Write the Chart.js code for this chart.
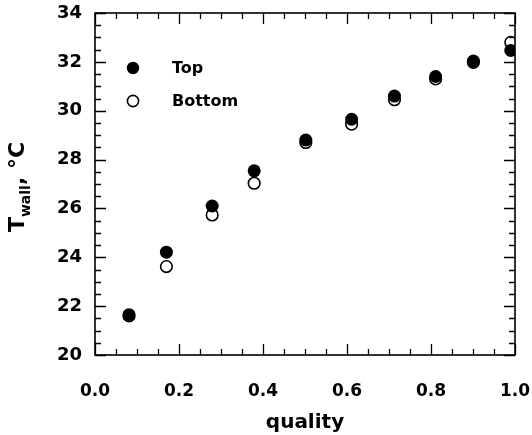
<!DOCTYPE html>
<html>
<head>
<meta charset="utf-8">
<script src="https://cdn.jsdelivr.net/npm/chart.js@4/dist/chart.umd.min.js"></script>
<style>
  html, body { margin: 0; padding: 0; background: #fff; }
  #wrap { width: 532px; height: 435px; position: relative; }
</style>
</head>
<body>
<div id="wrap"><canvas id="c" width="532" height="435"></canvas></div>
<script>
// ---- data ----
const quality = [0.081, 0.170, 0.279, 0.379, 0.502, 0.611, 0.713, 0.811, 0.901, 0.990];
const tempTop = [21.65, 24.21, 26.10, 27.54, 28.80, 29.65, 30.60, 31.40, 32.03, 32.47];
const tempBottom = [21.60, 23.62, 25.73, 27.03, 28.70, 29.45, 30.45, 31.30, 31.98, 32.80];
const seriesNames = ["Top", "Bottom"];
const xTickLabels = ["0.0", "0.2", "0.4", "0.6", "0.8", "1.0"];
const yTickLabels = ["20", "22", "24", "26", "28", "30", "32", "34"];
const xTitle = "quality";

const FONT = "'DejaVu Sans', Arial, sans-serif";

function pts(xs, ys) { return xs.map((x, i) => ({ x: x, y: ys[i] })); }

const framePlugin = {
  id: 'frame',
  afterDraw(chart) {
    const ctx = chart.ctx;
    const xs = chart.scales.x, ys = chart.scales.y;
    const a = chart.chartArea;
    ctx.save();
    ctx.strokeStyle = '#000';
    ctx.lineWidth = 1.6;
    ctx.strokeRect(a.left, a.top, a.right - a.left, a.bottom - a.top);
    ctx.lineWidth = 1.3;
    // x ticks (bottom and top), inward
    for (let i = 0; i <= 20; i++) {
      const v = i * 0.05;
      const px = Math.round(xs.getPixelForValue(v)) + 0.5;
      const major = (i % 4 === 0);
      const len = major ? 11 : 6;
      ctx.beginPath();
      ctx.moveTo(px, a.bottom); ctx.lineTo(px, a.bottom - len);
      ctx.moveTo(px, a.top); ctx.lineTo(px, a.top + len);
      ctx.stroke();
    }
    // y ticks (left and right), inward
    for (let i = 0; i <= 28; i++) {
      const v = 20 + i * 0.5;
      const py = Math.round(ys.getPixelForValue(v)) + 0.5;
      const major = (i % 4 === 0);
      const len = major ? 11 : 6;
      ctx.beginPath();
      ctx.moveTo(a.left, py); ctx.lineTo(a.left + len, py);
      ctx.moveTo(a.right, py); ctx.lineTo(a.right - len, py);
      ctx.stroke();
    }
    // legend
    const lx = a.left + 38;
    const ly1 = a.top + 55, ly2 = a.top + 88;
    ctx.fillStyle = '#000';
    ctx.beginPath(); ctx.arc(lx, ly1, 6.2, 0, Math.PI * 2); ctx.fill();
    ctx.lineWidth = 1.6;
    ctx.beginPath(); ctx.arc(lx, ly2, 5.6, 0, Math.PI * 2);
    ctx.fillStyle = '#fff'; ctx.fill(); ctx.stroke();
    ctx.fillStyle = '#000';
    ctx.font = "bold 16px " + FONT;
    ctx.textAlign = 'left';
    ctx.textBaseline = 'middle';
    ctx.fillText(seriesNames[0], lx + 39, ly1 + 1);
    ctx.fillText(seriesNames[1], lx + 39, ly2 + 1);
    // y title with subscript, rotated
    ctx.save();
    ctx.translate(24, 187);
    ctx.rotate(-Math.PI / 2);
    ctx.textBaseline = 'alphabetic';
    ctx.textAlign = 'left';
    const big = "bold 22px " + FONT, small = "bold 14px " + FONT;
    ctx.font = big;
    const wT = ctx.measureText("T").width;
    ctx.font = small;
    const wSub = ctx.measureText("wall").width;
    ctx.font = big;
    const wRest = ctx.measureText(", \u00B0C").width;
    let x0 = -(wT + wSub + wRest) / 2;
    ctx.font = big; ctx.fillText("T", x0, 0); x0 += wT;
    ctx.font = small; ctx.fillText("wall", x0, 6); x0 += wSub;
    ctx.font = big; ctx.fillText(", \u00B0C", x0, 0);
    ctx.restore();
    ctx.restore();
  }
};

new Chart(document.getElementById('c'), {
  type: 'scatter',
  data: {
    datasets: [
      {
        label: seriesNames[1],
        data: pts(quality, tempBottom),
        pointStyle: 'circle',
        pointRadius: 5.8,
        pointHoverRadius: 5.8,
        backgroundColor: '#fff',
        borderColor: '#000',
        borderWidth: 1.6,
        order: 2
      },
      {
        label: seriesNames[0],
        data: pts(quality, tempTop),
        pointStyle: 'circle',
        pointRadius: 6.5,
        pointHoverRadius: 6.5,
        backgroundColor: '#000',
        borderColor: '#000',
        borderWidth: 0,
        order: 1
      }
    ]
  },
  options: {
    responsive: false,
    animation: false,
    devicePixelRatio: 1,
    layout: { padding: { left: 0, top: 13, right: 17, bottom: 0 } },
    plugins: { legend: { display: false }, tooltip: { enabled: false } },
    scales: {
      x: {
        type: 'linear', min: 0, max: 1,
        grid: { display: false, drawTicks: false },
        border: { display: false },
        afterBuildTicks(s) { s.ticks = xTickLabels.map(t => ({ value: parseFloat(t) })); },
        ticks: {
          color: '#000', padding: 26,
          font: { family: FONT, size: 17, weight: 'bold' },
          maxRotation: 0, autoSkip: false,
          callback: (v, i) => xTickLabels[i]
        },
        title: {
          display: true, text: xTitle, color: '#000',
          font: { family: FONT, size: 20, weight: 'bold' },
          padding: { top: 4, bottom: 0 }
        },
        afterFit(s) { s.height = 80; s.paddingLeft = 0; s.paddingRight = 0; }
      },
      y: {
        type: 'linear', min: 20, max: 34,
        grid: { display: false, drawTicks: false },
        border: { display: false },
        afterBuildTicks(s) { s.ticks = yTickLabels.map(t => ({ value: parseFloat(t) })); },
        ticks: {
          color: '#000', padding: 13,
          font: { family: FONT, size: 18, weight: 'bold' },
          autoSkip: false,
          callback: (v, i) => yTickLabels[i]
        },
        afterFit(s) { s.width = 95; s.paddingTop = 0; s.paddingBottom = 0; }
      }
    }
  },
  plugins: [framePlugin]
});
</script>
</body>
</html>
